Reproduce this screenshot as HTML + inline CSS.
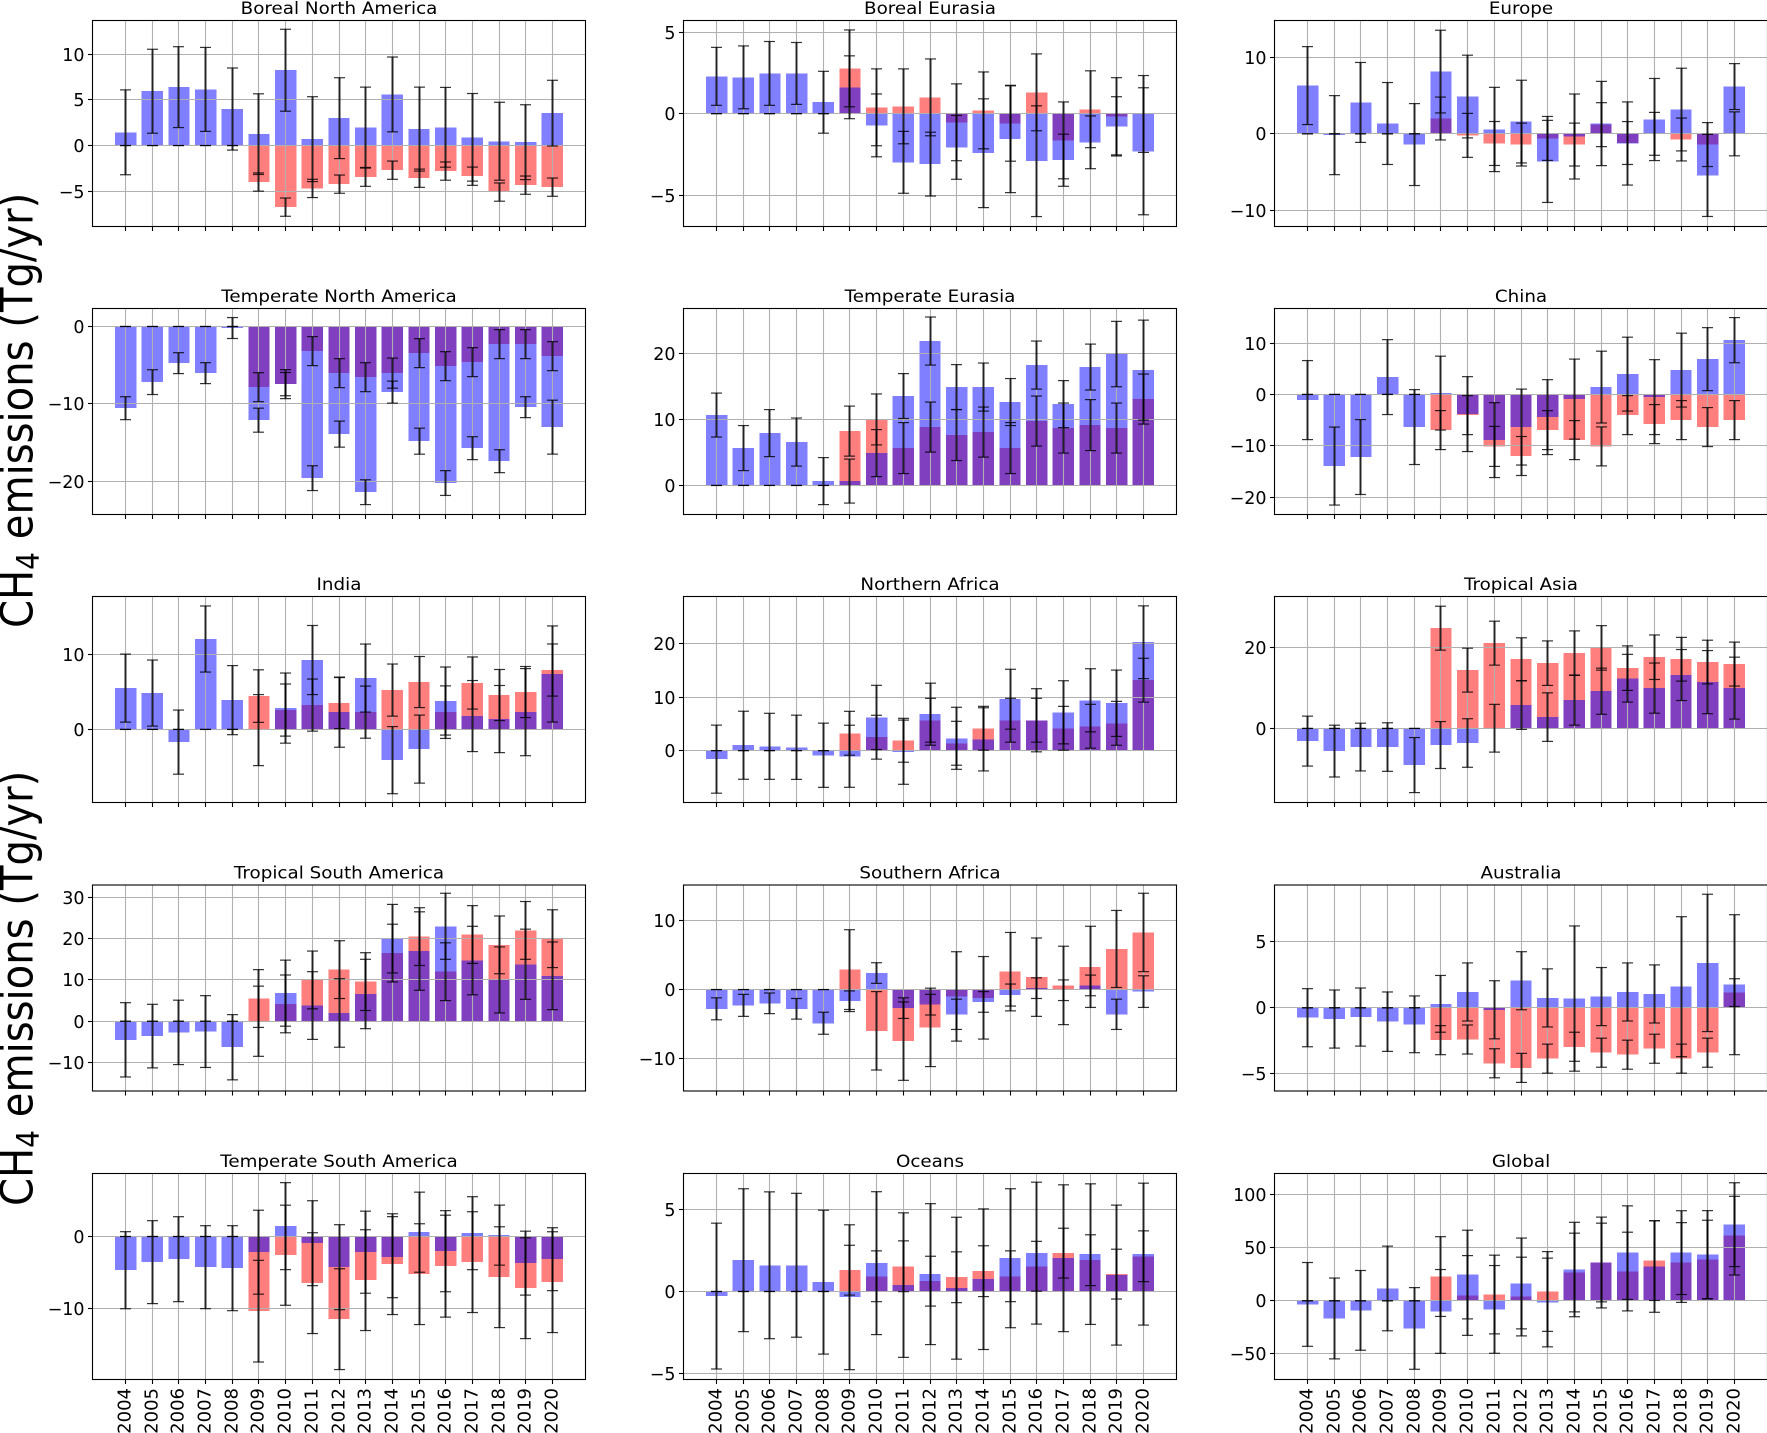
<!DOCTYPE html>
<html lang="en">
<head>
<meta charset="utf-8">
<title>CH4 emissions by region</title>
<style>
html,body{margin:0;padding:0;background:#fff;}
body{width:1767px;height:1433px;overflow:hidden;}
svg{display:block;}
text{font-family:"DejaVu Sans","Liberation Sans",sans-serif;fill:#000;}
</style>
</head>
<body>
<svg id="chart" xmlns="http://www.w3.org/2000/svg" width="1767" height="1433" viewBox="0 0 1767 1433">
<rect x="0" y="0" width="1767" height="1433" fill="#fff"/>
<text transform="translate(32.5,628) rotate(-90) scale(0.9,1)" font-size="44.6">CH<tspan dy="6.7" font-size="31.2">4</tspan><tspan dy="-6.7"> emissions (Tg/yr)</tspan></text>
<text transform="translate(32.5,1206) rotate(-90) scale(0.9,1)" font-size="44.6">CH<tspan dy="6.7" font-size="31.2">4</tspan><tspan dy="-6.7"> emissions (Tg/yr)</tspan></text>
</svg>
<script>
const years = [2004,2005,2006,2007,2008,2009,2010,2011,2012,2013,2014,2015,2016,2017,2018,2019,2020];

const bnaBlue = [1.45,5.95,6.4,6.15,4.0,1.25,8.25,0.7,3.0,2.0,5.6,1.8,2.0,0.9,0.47,0.37,3.55];
const bnaRed = [0,0,0,0,0,-4.0,-6.75,-4.7,-4.23,-3.47,-2.7,-3.58,-2.8,-3.36,-5.1,-4.34,-4.56];
const bnaBlueErr = [4.65,4.6,4.43,4.6,4.5,4.42,4.49,4.65,4.43,4.4,4.1,4.6,4.37,4.8,4.27,4.1,3.6];
const bnaRedErr = [0,0,0,0,0,1,1,1,1,1,1,1,1,1,1,1,1];
const bnaTicks = [-5,0,5,10];
const bnaRange = [-8.87,13.7];

const beuBlue = [2.29,2.23,2.47,2.47,0.7,1.62,-0.72,-2.99,-3.1,-2.07,-2.43,-1.57,-2.92,-2.86,-1.76,-0.78,-2.31];
const beuRed = [0,0,0,0,0,2.78,0.39,0.45,1.0,-0.53,0.2,-0.59,1.31,-1.64,0.27,-0.16,-0.02];
const beuBlueErr = [1.78,1.93,1.96,1.9,1.9,1.93,1.93,1.9,1.96,1.96,3.34,3.28,3.4,1.6,1.62,1.82,3.9];
const beuRedErr = [0,0,0,0,0,2.36,2.36,2.3,2.36,2.36,2.36,2.33,2.36,2.36,2.36,2.37,2.36];
const beuTicks = [-5,0,5];
const beuRange = [-6.93,5.72];

const eurBlue = [6.3,-0.17,4.1,1.35,-1.4,8.13,4.87,0.57,1.6,-3.6,-0.35,1.35,-1.26,1.87,3.17,-5.43,6.17];
const eurRed = [0,0,0,0,0,2,-0.2,-1.26,-1.4,-0.6,-1.4,1.2,-1.2,0,-0.74,-1.4,0];
const eurBlueErr = [5.09,5.16,5.22,5.35,5.35,5.4,5.4,5.5,5.4,5.36,5.55,5.5,5.43,5.36,5.4,5.36,3.0];
const eurRedErr = [0,0,0,0,0,2.8,2.87,2.87,2.8,2.87,2.8,2.87,2.8,2.8,2.8,2.87,2.87];
const eurTicks = [-10,0,10];
const eurRange = [-12.1,14.8];

const tnaBlue = [-10.54,-7.18,-4.73,-6.02,-0.2,-12.09,-7.44,-19.57,-13.89,-21.38,-8.47,-14.8,-20.2,-15.7,-17.38,-10.41,-12.99];
const tnaRed = [0,0,0,0,0,-7.83,-7.44,-3.18,-6.02,-6.54,-6.02,-3.44,-5.12,-4.6,-2.28,-2.28,-3.83];
const tnaBlueErr = [1.48,1.6,1.35,1.35,1.35,1.55,1.5,1.6,1.68,1.6,1.42,1.68,1.6,1.48,1.48,1.35,3.48];
const tnaRedErr = [0,0,0,0,0,1.87,1.87,1.87,1.87,1.87,1.94,1.87,1.87,1.87,1.87,1.87,1.87];
const tnaTicks = [-20,-10,0];
const tnaRange = [-24.26,2.32];

const teuBlue = [10.66,5.66,7.93,6.57,0.66,0.66,4.9,13.54,21.87,14.9,14.9,12.63,18.23,12.32,17.93,19.9,17.47];
const teuRed = [0,0,0,0,0,8.23,10,5.66,8.84,7.63,8.08,5.66,9.75,8.69,9.14,8.69,13.08];
const teuBlueErr = [3.33,3.41,3.56,3.64,3.56,3.33,3.56,3.4,3.64,3.4,3.64,3.56,3.64,3.56,3.48,4.95,7.57];
const teuRedErr = [0,0,0,0,0,3.79,3.86,3.86,3.79,3.86,3.79,3.86,3.79,3.79,3.86,3.79,3.79];
const teuTicks = [0,10,20];
const teuRange = [-4.4,26.8];

const chnBlue = [-1.1,-13.96,-12.2,3.38,-6.36,0.26,-3.83,-8.9,-6.36,-4.42,-0.91,1.43,3.96,-0.52,4.74,6.88,10.58];
const chnRed = [0,0,0,0,0,-6.95,-4.03,-10.13,-12.0,-6.95,-8.9,-10.13,-4.03,-5.78,-5,-6.36,-5];
const chnBlueErr = [7.7,7.6,7.3,7.3,7.3,7.2,7.3,7.3,7.4,7.3,7.8,7,7.2,7.3,7.2,6.14,4.4];
const chnRedErr = [0,0,0,0,0,3.8,3.8,3.9,3.8,3.8,3.8,3.8,3.8,3.8,3.8,3.8,3.8];
const chnTicks = [-20,-10,0,10];
const chnRange = [-23.4,16.75];

const indBlue = [5.5,4.84,-1.69,12.04,3.9,-0.09,2.84,9.24,2.3,6.84,-4.09,-2.62,3.78,1.78,1.38,2.3,7.38];
const indRed = [0,0,0,0,0,4.44,2.58,3.24,3.51,2.3,5.24,6.31,2.3,6.18,4.58,4.98,7.91];
const indBlueErr = [4.53,4.4,4.27,4.4,4.6,4.73,4.67,4.6,4.67,4.53,4.47,4.53,4.53,4.73,4.47,5.8,6.4];
const indRedErr = [0,0,0,0,0,3.5,3.47,3.47,3.4,3.47,3.47,3.4,3.5,3.47,3.4,3.4,3.47];
const indTicks = [0,10];
const indRange = [-9.73,17.7];

const nafBlue = [-1.6,1,0.8,0.62,-0.87,-1.06,6.2,-0.3,6.8,2.3,2.1,9.6,5.67,7.16,9.4,8.85,20.25];
const nafRed = [0,0,0,0,0,3.24,2.5,1.93,5.67,1.37,4.17,5.67,5.67,4.17,4.55,5.1,13.15];
const nafBlueErr = [6.36,6.36,6.17,6,6,5.8,6,6,5.8,5.8,5.9,5.6,5.9,5.9,5.9,6.2,6.8];
const nafRedErr = [0,0,0,0,0,4.1,4.1,4.1,4.1,4.1,4.1,4.1,4.1,4.1,4.1,4.1,4.1];
const nafTicks = [0,10,20];
const nafRange = [-9.7,28.8];

const tasBlue = [-3.13,-5.6,-4.6,-4.6,-9.05,-4.1,-3.6,0.05,5.76,2.8,7,9.2,12.4,9.96,13.2,11.44,9.96];
const tasRed = [0,0,0,0,0,24.77,14.4,21.07,17.1,16.13,18.6,19.9,14.9,17.6,17.1,16.4,15.9];
const tasBlueErr = [6.17,6.4,5.9,6,6.8,5.8,6,5.9,6,6,6.2,5.7,5.9,6.2,6.3,7.8,7.65];
const tasRedErr = [0,0,0,0,0,5.43,5.43,5.43,5.3,5.5,5.5,5.5,5.5,5.5,5.4,5.4,5.43];
const tasTicks = [0,20];
const tasRange = [-18.3,32.6];

const tsaBlue = [-4.5,-3.6,-2.7,-2.5,-6.3,0,6.8,3.8,2,6.6,20,17,23,14.7,10,13.8,11];
const tsaRed = [0,0,0,0,0,5.5,4.2,10,12.5,9.6,16.5,20.5,12,21,18.5,22,20];
const tsaBlueErr = [9,7.7,7.8,8.7,7.9,8.5,8,8.2,8.3,8.4,8.3,9.5,8,8.3,8,8.5,8.2];
const tsaRedErr = [0,0,0,0,0,7,7,7,7,7,7,7,7,7,7,7,7];
const tsaTicks = [-10,0,10,20,30];
const tsaRange = [-16.9,33];

const safBlue = [-2.8,-2.3,-2,-2.8,-4.9,-1.7,2.4,-2.7,-2.2,-3.6,-1.8,-0.8,0.2,-0.1,0.6,-3.6,-0.3];
const safRed = [0,0,0,0,0,2.9,-6,-7.5,-5.5,-1,-1.2,2.6,1.8,0.6,3.3,5.9,8.3];
const safBlueErr = [1.6,1.6,1.5,1.5,1.6,1.5,1.5,1.5,1.5,2.2,1.5,1.6,1.5,1.5,1.5,2.2,2.3];
const safRedErr = [0,0,0,0,0,5.8,5.7,5.7,5.7,6.5,6,5.7,5.7,5.7,5.9,5.6,5.7];
const safTicks = [-10,0,10];
const safRange = [-14.75,15.2];

const ausBlue = [-0.75,-0.85,-0.7,-1.05,-1.25,0.3,1.2,-0.15,2.05,0.75,0.7,0.85,1.2,1.05,1.6,3.4,1.75];
const ausRed = [0,0,0,0,0,-2.45,-2.4,-4.2,-4.55,-3.85,-2.95,-3.4,-3.55,-3.1,-3.85,-3.4,1.15];
const ausBlueErr = [2.2,2.2,2.2,2.25,2.15,2.15,2.2,2.2,2.2,2.2,5.5,2.2,2.2,2.2,5.3,5.2,5.3];
const ausRedErr = [0,0,0,0,0,1.1,1.1,1.1,1.1,1.1,1.1,1.1,1.1,1.1,1.1,1.1,1.05];
const ausTicks = [-5,0,5];
const ausRange = [-6.3,9.3];

const tsoBlue = [-4.68,-3.56,-3.15,-4.26,-4.4,-2.18,1.44,-0.93,-4.26,-2.18,-2.87,0.6,-2.04,0.46,0.19,-3.7,-3.15];
const tsoRed = [0,0,0,0,0,-10.37,-2.6,-6.48,-11.48,-6.06,-3.84,-5.23,-4.12,-3.56,-5.65,-7.18,-6.34];
const tsoBlueErr = [5.35,5.76,5.9,5.76,5.9,5.83,6.04,5.9,5.9,5.7,5.63,5.56,5.63,5.07,4.17,4.44,4.37];
const tsoRedErr = [0,0,0,0,0,7.06,6.95,7,7,7,7,7,7.08,7,7,7,7];
const tsoTicks = [-10,0];
const tsoRange = [-19.86,8.75];

const ocnBlue = [-0.28,1.91,1.6,1.6,0.57,-0.35,1.73,0.39,1.06,0.2,0.75,2.03,2.34,2.03,2.28,1,2.28];
const ocnRed = [0,0,0,0,0,1.3,0.93,1.54,0.63,0.87,1.24,0.93,1.54,2.34,1.91,1.06,2.15];
const ocnBlueErr = [4.45,4.36,4.48,4.39,4.39,4.42,4.36,4.41,4.3,4.33,4.29,4.24,4.33,4.48,4.29,4.27,4.33];
const ocnRedErr = [0,0,0,0,0,1.52,1.55,1.55,1.52,1.55,1.55,1.55,1.52,1.52,1.55,1.52,1.55];
const ocnTicks = [-5,0,5];
const ocnRange = [-5.37,7.2];

const gloBlue = [-3.4,-16.6,-9,11.6,-26,-10,24.7,-8.1,16.3,-1.6,29.4,36,45.3,32.2,45.3,43.4,71.6];
const gloRed = [0,0,0,0,0,22.8,5,5.9,4,8.75,26.6,36,27.5,37.8,36,38.75,61.25];
const gloBlueErr = [39.4,38,37.5,39.8,38.4,39.4,41.7,41.25,42.7,41.7,44.4,42.7,44,43,39.4,41.4,39.4];
const gloRedErr = [0,0,0,0,0,37.5,37.5,37,37,37.5,37,37,37,37.5,37.5,37,37];
const gloTicks = [-50,0,50,100];
const gloRange = [-74,119.7];

const panels = [
  {key:'boreal-north-america', title:'Boreal North America', blue:bnaBlue, red:bnaRed, blueErr:bnaBlueErr, redErr:bnaRedErr, ticks:bnaTicks, range:bnaRange},
  {key:'boreal-eurasia', title:'Boreal Eurasia', blue:beuBlue, red:beuRed, blueErr:beuBlueErr, redErr:beuRedErr, ticks:beuTicks, range:beuRange},
  {key:'europe', title:'Europe', blue:eurBlue, red:eurRed, blueErr:eurBlueErr, redErr:eurRedErr, ticks:eurTicks, range:eurRange},
  {key:'temperate-north-america', title:'Temperate North America', blue:tnaBlue, red:tnaRed, blueErr:tnaBlueErr, redErr:tnaRedErr, ticks:tnaTicks, range:tnaRange},
  {key:'temperate-eurasia', title:'Temperate Eurasia', blue:teuBlue, red:teuRed, blueErr:teuBlueErr, redErr:teuRedErr, ticks:teuTicks, range:teuRange},
  {key:'china', title:'China', blue:chnBlue, red:chnRed, blueErr:chnBlueErr, redErr:chnRedErr, ticks:chnTicks, range:chnRange},
  {key:'india', title:'India', blue:indBlue, red:indRed, blueErr:indBlueErr, redErr:indRedErr, ticks:indTicks, range:indRange},
  {key:'northern-africa', title:'Northern Africa', blue:nafBlue, red:nafRed, blueErr:nafBlueErr, redErr:nafRedErr, ticks:nafTicks, range:nafRange},
  {key:'tropical-asia', title:'Tropical Asia', blue:tasBlue, red:tasRed, blueErr:tasBlueErr, redErr:tasRedErr, ticks:tasTicks, range:tasRange},
  {key:'tropical-south-america', title:'Tropical South America', blue:tsaBlue, red:tsaRed, blueErr:tsaBlueErr, redErr:tsaRedErr, ticks:tsaTicks, range:tsaRange},
  {key:'southern-africa', title:'Southern Africa', blue:safBlue, red:safRed, blueErr:safBlueErr, redErr:safRedErr, ticks:safTicks, range:safRange},
  {key:'australia', title:'Australia', blue:ausBlue, red:ausRed, blueErr:ausBlueErr, redErr:ausRedErr, ticks:ausTicks, range:ausRange},
  {key:'temperate-south-america', title:'Temperate South America', blue:tsoBlue, red:tsoRed, blueErr:tsoBlueErr, redErr:tsoRedErr, ticks:tsoTicks, range:tsoRange},
  {key:'oceans', title:'Oceans', blue:ocnBlue, red:ocnRed, blueErr:ocnBlueErr, redErr:ocnRedErr, ticks:ocnTicks, range:ocnRange},
  {key:'global', title:'Global', blue:gloBlue, red:gloRed, blueErr:gloBlueErr, redErr:gloRedErr, ticks:gloTicks, range:gloRange}
];

const NS = 'http://www.w3.org/2000/svg';
const svg = document.getElementById('chart');
const axW = 493, axH = 206;
const colLeft = [92.5, 683.5, 1274.5];
const rowTop = [20.5, 308.5, 596.5, 885, 1173.5];
const barWidth = 0.8;
const xMin = 2004 - 0.4 - 0.84, xMax = 2020 + 0.4 + 0.84;

function make(tag, attrs, parent) {
  const e = document.createElementNS(NS, tag);
  for (const k in attrs) e.setAttribute(k, attrs[k]);
  parent.appendChild(e);
  return e;
}
function fmt(v) { return v < 0 ? '\u2212' + Math.abs(v) : String(v); }

function drawBars(g, p, vals, fill, name, xs, ys) {
  vals.forEach(function (v, i) {
    const x = xs(years[i] - barWidth / 2), w = xs(years[i] + barWidth / 2) - x;
    const y0 = ys(0), y1 = ys(v);
    const bar = make('rect', {x: x, y: Math.min(y0, y1), width: w, height: Math.abs(y1 - y0), fill: fill, 'fill-opacity': 0.5, 'shape-rendering': 'crispEdges'}, g);
    
    
  });
}
function drawErrors(g, vals, errs, name, xs, ys) {
  vals.forEach(function (v, i) {
    const cx = Math.floor(xs(years[i])) + 0.5;
    const hi = ys(v + errs[i]), lo = ys(v - errs[i]);
    const eb = make('g', {stroke: '#000', 'stroke-opacity': 0.8}, g);
    
    
    make('line', {x1: cx, x2: cx, y1: hi, y2: lo, 'stroke-width': 2}, eb);
    make('line', {x1: cx - 5.5, x2: cx + 5.5, y1: hi, y2: hi, 'stroke-width': 1.2}, eb);
    make('line', {x1: cx - 5.5, x2: cx + 5.5, y1: lo, y2: lo, 'stroke-width': 1.2}, eb);
  });
}

panels.forEach(function (p, idx) {
  const col = idx % 3, row = Math.floor(idx / 3);
  const L = colLeft[col], T = rowTop[row];
  const xs = function (v) { return L + (v - xMin) / (xMax - xMin) * axW; };
  const ys = function (v) { return T + axH - (v - p.range[0]) / (p.range[1] - p.range[0]) * axH; };

  const g = make('g', {}, svg);
  
  

  const title = make('text', {transform: 'translate(' + (L + axW / 2) + ',' + (T - 6.3) + ') scale(1.077,1)', 'text-anchor': 'middle', 'font-size': 17}, g);
  title.textContent = p.title;
  
  

  // Bars sit under the grid, red first and blue over it.
  drawBars(g, p, p.red, '#ff0000', 'red-bar', xs, ys);
  drawBars(g, p, p.blue, '#0000ff', 'blue-bar', xs, ys);

  years.forEach(function (yr) {
    const x = Math.floor(xs(yr)) + 0.5;
    const gl = make('line', {x1: x, x2: x, y1: T, y2: T + axH, stroke: '#b0b0b0', 'stroke-width': 1.1}, g);
    
    
    const tk = make('line', {x1: x, x2: x, y1: T + axH, y2: T + axH + 4.5, stroke: '#000', 'stroke-width': 1.1}, g);
    
    
    if (row === 4) {
      const lb = make('text', {transform: 'translate(' + (x + 5) + ',' + (T + axH + 8.5) + ') rotate(-90)', 'text-anchor': 'end', 'font-size': 18}, g);
      lb.textContent = String(yr);
      
      
    }
  });
  p.ticks.forEach(function (t) {
    const y = Math.floor(ys(t)) + 0.5;
    const gl = make('line', {x1: L, x2: L + axW, y1: y, y2: y, stroke: '#b0b0b0', 'stroke-width': 1.1}, g);
    
    
    const tk = make('line', {x1: L - 4.5, x2: L, y1: y, y2: y, stroke: '#000', 'stroke-width': 1.1}, g);
    
    
    const lb = make('text', {x: L - 8, y: y + 6.4, 'text-anchor': 'end', 'font-size': 17.5}, g);
    lb.textContent = fmt(t);
    
    
  });

  drawErrors(g, p.red, p.redErr, 'red-error-bar', xs, ys);
  drawErrors(g, p.blue, p.blueErr, 'blue-error-bar', xs, ys);

  const frame = make('rect', {x: L, y: T, width: axW, height: axH, fill: 'none', stroke: '#000', 'stroke-width': 1.1}, g);
  
  
});
</script>
</body>
</html>
